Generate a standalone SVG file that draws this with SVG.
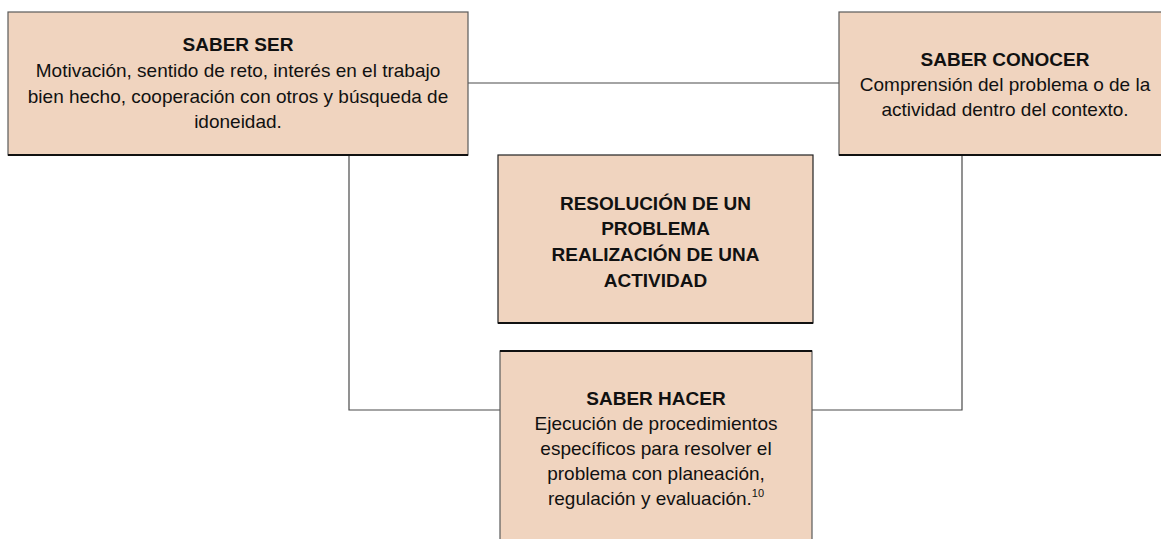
<svg xmlns="http://www.w3.org/2000/svg" width="1161" height="539" viewBox="0 0 1161 539">
<style>
.box{fill:#f0d4bf;stroke:#5a5a5a;stroke-width:1.2}
.shadow{stroke:#111;stroke-width:2;fill:none}
.conn{stroke:#4a4a4a;stroke-width:1.2;fill:none}
text{font-family:"Liberation Sans",Arial,sans-serif;font-size:19px;fill:#111111;text-anchor:middle}
.b{font-weight:bold}
</style>
<rect width="1161" height="539" fill="#ffffff"/>
<g id="connectors">
<line class="conn" x1="468" y1="83" x2="839" y2="83"/>
<polyline class="conn" points="349,155 349,410 500,410"/>
<polyline class="conn" points="962,155 962,410 812,410"/>
</g>
<g id="saber-ser">
<rect class="box" x="8" y="12" width="460" height="143"/>
<line class="shadow" x1="8" y1="155" x2="468" y2="155"/>
<text x="238" y="51" class="b">SABER SER</text>
<text x="238" y="77">Motivación, sentido de reto, interés en el trabajo</text>
<text x="238" y="103">bien hecho, cooperación con otros y búsqueda de</text>
<text x="238" y="128">idoneidad.</text>
</g>
<g id="saber-conocer">
<rect class="box" x="839" y="12" width="332" height="143"/>
<line class="shadow" x1="839" y1="155" x2="1171" y2="155"/>
<text x="1005" y="66" class="b">SABER CONOCER</text>
<text x="1005" y="91">Comprensión del problema o de la</text>
<text x="1005" y="116">actividad dentro del contexto.</text>
</g>
<g id="resolucion">
<rect class="box" x="498" y="155" width="315" height="168" style="stroke:#222"/>
<line class="shadow" x1="498" y1="323" x2="813" y2="323"/>
<text x="655.5" y="210" class="b">RESOLUCIÓN DE UN</text>
<text x="655.5" y="235" class="b">PROBLEMA</text>
<text x="655.5" y="261" class="b">REALIZACIÓN DE UNA</text>
<text x="655.5" y="287" class="b">ACTIVIDAD</text>
</g>
<g id="saber-hacer">
<rect class="box" x="500" y="351" width="312" height="200"/>
<line class="shadow" x1="500" y1="351" x2="812" y2="351"/>
<text x="656" y="405" class="b">SABER HACER</text>
<text x="656" y="430">Ejecución de procedimientos</text>
<text x="656" y="455">específicos para resolver el</text>
<text x="656" y="480">problema con planeación,</text>
<text x="656" y="505">regulación y evaluación.<tspan font-size="11" dy="-8">10</tspan></text>
</g>
</svg>
